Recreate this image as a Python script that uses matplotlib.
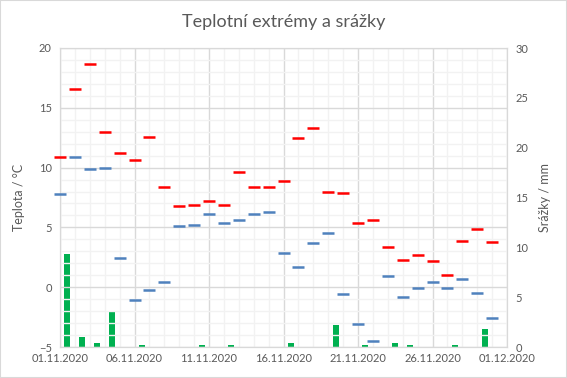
import numpy as np
import matplotlib.pyplot as plt
from matplotlib.ticker import MultipleLocator
from matplotlib.patches import Rectangle

plt.rcParams['font.family'] = ['Lato', 'DejaVu Sans']

# den v listopadu 2020
dny = np.arange(1, 31)
t_max = [10.9, 16.6, 18.7, 13.0, 11.2, 10.6, 12.6, 8.4, 6.8, 6.9,
         7.2, 6.9, 9.6, 8.4, 8.4, 8.9, 12.5, 13.3, 8.0, 7.9,
         5.4, 5.6, 3.4, 2.3, 2.7, 2.2, 1.0, 3.9, 4.9, 3.8]
t_min = [7.8, 10.9, 9.9, 10.0, 2.4, -1.1, -0.2, 0.4, 5.1, 5.2,
         6.1, 5.4, 5.6, 6.1, 6.3, 2.9, 1.7, 3.7, 4.5, -0.6,
         -3.1, -4.5, 0.9, -0.8, -0.1, 0.4, -0.1, 0.7, -0.5, -2.6]
srazky = [9.3, 1.0, 0.4, 3.6, 0, 0.2, 0, 0, 0, 0.2,
          0, 0.2, 0, 0, 0, 0.4, 0, 0, 2.2, 0,
          0.2, 0, 0.4, 0.2, 0, 0, 0.2, 0, 1.8, 0]
popisky = ['01.11.2020', '06.11.2020', '11.11.2020', '16.11.2020',
           '21.11.2020', '26.11.2020', '01.12.2020']

sedy = '#595959'
mrizka = '#D9D9D9'
mrizka2 = '#F2F2F2'

fig = plt.figure(figsize=(5.67, 3.78), dpi=100)
ax = fig.add_axes([60 / 567, 1 - 347 / 378, 447 / 567, 299 / 378])
ax2 = ax.twinx()

ax2.bar(dny + 0.5, srazky, width=0.4, color='#00B050', zorder=2)
ax.plot(dny, t_max, linestyle='none', marker='_', markersize=8.6,
        markeredgewidth=1.8, color='#FF0000', zorder=3, clip_on=False)
ax.plot(dny, t_min, linestyle='none', marker='_', markersize=8.6,
        markeredgewidth=1.8, color='#4F81BD', zorder=3, clip_on=False)
ax.set_zorder(ax2.get_zorder() + 1)
ax.patch.set_visible(False)

ax.set_xlim(1, 31)
ax.set_ylim(-5, 20)
ax2.set_ylim(0, 30)

ax.set_xticks(np.arange(1, 32, 5))
ax.set_xticklabels(popisky)
ax.xaxis.set_minor_locator(MultipleLocator(1))
ax.yaxis.set_major_locator(MultipleLocator(5))
ax.yaxis.set_minor_locator(MultipleLocator(1))
ax2.yaxis.set_major_locator(MultipleLocator(5))

ax.grid(which='major', color=mrizka, linewidth=1.0, zorder=0)
ax.grid(which='minor', color=mrizka2, linewidth=1.0, zorder=0)
ax.set_axisbelow(True)

for a in (ax, ax2):
    for s in a.spines.values():
        s.set_color(mrizka)
    a.tick_params(which='both', length=0, colors=sedy, labelsize=8)
ax.tick_params(axis='x', pad=4)
ax.tick_params(axis='y', pad=6)
ax2.tick_params(axis='y', pad=6)

ax.set_ylabel('Teplota / °C', color=sedy, fontsize=9, labelpad=10)
ax2.set_ylabel('Srážky / mm', color=sedy, fontsize=9, labelpad=8)
fig.suptitle('Teplotní extrémy a srážky', color=sedy, fontsize=13, y=0.962)

fig.patches.append(Rectangle((0, 0), 1, 1, transform=fig.transFigure,
                             fill=False, edgecolor=mrizka, linewidth=1.5))

fig.savefig('out.png', dpi=100)
